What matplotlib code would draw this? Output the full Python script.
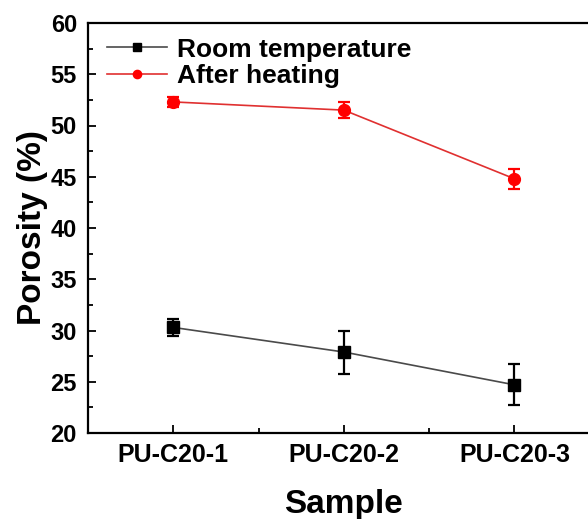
import matplotlib
matplotlib.use("Agg")
import matplotlib.pyplot as plt
from matplotlib.ticker import MultipleLocator, FixedLocator

# Data
samples = ["PU-C20-1", "PU-C20-2", "PU-C20-3"]
room_temp = [30.3, 27.9, 24.7]
room_temp_err = [0.8, 2.1, 2.0]
after_heating = [52.3, 51.5, 44.8]
after_heating_err = [0.5, 0.8, 1.0]

plt.rcParams["font.family"] = ["Liberation Sans", "DejaVu Sans"]
plt.rcParams["font.weight"] = "bold"

fig = plt.figure(figsize=(5.88, 5.19), dpi=100)
ax = fig.add_axes([88 / 588, 1 - 433 / 519, 1.02 - 88 / 588, (433 - 23) / 519])

x = [1, 2, 3]
rt = ax.errorbar(x, room_temp, yerr=room_temp_err, color="#4a4a4a", lw=1.2,
                 marker="s", ms=8, mfc="black", mec="black",
                 ecolor="black", elinewidth=1.6, capsize=4.5, capthick=1.6)
ah = ax.errorbar(x, after_heating, yerr=after_heating_err, color="#e03030", lw=1.2,
                 marker="o", ms=8.5, mfc="#ff0000", mec="#ff0000",
                 ecolor="#ff0000", elinewidth=1.6, capsize=4.5, capthick=1.6)

ax.set_xlim(0.5, 3.5)
ax.set_ylim(20, 60)
ax.set_xticks(x)
ax.set_xticklabels(samples)
ax.xaxis.set_minor_locator(FixedLocator([1.5, 2.5]))
ax.yaxis.set_major_locator(MultipleLocator(5))
ax.yaxis.set_minor_locator(MultipleLocator(2.5))

ax.tick_params(which="both", direction="in", width=1.3)
ax.tick_params(which="major", length=6)
ax.tick_params(which="minor", length=3.5)
ax.tick_params(axis="x", labelsize=18, pad=7)
ax.tick_params(axis="y", labelsize=17, pad=8)
for side in ["left", "bottom", "top"]:
    ax.spines[side].set_linewidth(1.6)
ax.spines["right"].set_visible(False)

ax.set_xlabel("Sample", fontsize=24, fontweight="bold", labelpad=16)
ax.set_ylabel("Porosity (%)", fontsize=24, fontweight="bold", labelpad=2)

leg = ax.legend([rt[0], ah[0]], ["Room temperature", "After heating"],
                loc="upper left", bbox_to_anchor=(0.008, 1.0),
                frameon=False, fontsize=19,
                handlelength=2.3, handletextpad=0.35, borderaxespad=0.25,
                labelspacing=0.1, markerscale=0.7, borderpad=0.3)
for t in leg.get_texts():
    t.set_fontweight("bold")

fig.savefig("out.png", dpi=100)
